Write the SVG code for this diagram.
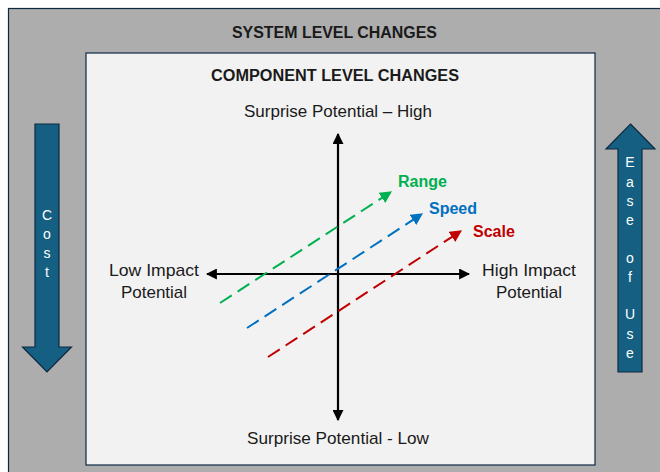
<svg xmlns="http://www.w3.org/2000/svg" width="660" height="472" viewBox="0 0 660 472">
  <defs>
    <style>
      .title { font-family: "Liberation Sans", Arial, sans-serif; font-weight: bold; font-size: 16px; fill: #1a1a1a; text-anchor: middle; }
      .lbl { font-family: "Liberation Sans", Arial, sans-serif; font-size: 17px; fill: #1a1a1a; text-anchor: middle; }
      .tag { font-family: "Liberation Sans", Arial, sans-serif; font-weight: bold; font-size: 16px; }
      .vert { font-family: "Liberation Sans", Arial, sans-serif; font-size: 14px; fill: #ffffff; text-anchor: middle; }
      .axis { stroke: #000; stroke-width: 2.2; fill: none; }
      .dash { stroke-width: 2; fill: none; stroke-dasharray: 14 7; }
      .big { fill: #156082; stroke: #0E2841; stroke-width: 1.2; }
    </style>
    <marker id="ah-black" viewBox="0 0 10 10" refX="9" refY="5" markerWidth="5" markerHeight="5" orient="auto-start-reverse" markerUnits="strokeWidth">
      <path d="M0,0 L10,5 L0,10 z" fill="#000"/>
    </marker>
    <marker id="ah-green" viewBox="0 0 10 10" refX="9" refY="5" markerWidth="6" markerHeight="6" orient="auto" markerUnits="strokeWidth">
      <path d="M0,0 L10,5 L0,10 z" fill="#00B050"/>
    </marker>
    <marker id="ah-blue" viewBox="0 0 10 10" refX="9" refY="5" markerWidth="6" markerHeight="6" orient="auto" markerUnits="strokeWidth">
      <path d="M0,0 L10,5 L0,10 z" fill="#0070C0"/>
    </marker>
    <marker id="ah-red" viewBox="0 0 10 10" refX="9" refY="5" markerWidth="6" markerHeight="6" orient="auto" markerUnits="strokeWidth">
      <path d="M0,0 L10,5 L0,10 z" fill="#C00000"/>
    </marker>
  </defs>

  <rect width="660" height="472" fill="#ffffff"/>

  <!-- outer frame: system level -->
  <g id="system-level">
    <rect x="8.5" y="8.5" width="660" height="480" fill="#ADADAD" stroke="#0E2841" stroke-width="1.2"/>
    <text class="title" x="334.5" y="38" textLength="205" lengthAdjust="spacingAndGlyphs">SYSTEM LEVEL CHANGES</text>
  </g>

  <!-- inner panel: component level -->
  <g id="component-level">
    <rect x="86" y="53" width="509" height="412" fill="#F2F2F2" stroke="#0E2841" stroke-width="1.2"/>
    <text class="title" x="335" y="81" textLength="248" lengthAdjust="spacingAndGlyphs">COMPONENT LEVEL CHANGES</text>
  </g>

  <!-- cost arrow (down) -->
  <g id="cost">
    <path class="big" d="M35,124 L59,124 L59,347 L71.5,347 L47,372 L22.5,347 L35,347 Z"/>
    <text class="vert" x="47" y="220">C</text>
    <text class="vert" x="47" y="239">o</text>
    <text class="vert" x="47" y="258">s</text>
    <text class="vert" x="47" y="277">t</text>
  </g>

  <!-- ease of use arrow (up) -->
  <g id="ease-of-use">
    <path class="big" d="M630.5,124 L655,149 L642,149 L642,372 L618,372 L618,149 L606,149 Z"/>
    <text class="vert" x="630" y="167">E</text>
    <text class="vert" x="630" y="187">a</text>
    <text class="vert" x="630" y="206">s</text>
    <text class="vert" x="630" y="225">e</text>
    <text class="vert" x="630" y="263">o</text>
    <text class="vert" x="630" y="282">f</text>
    <text class="vert" x="630" y="319">U</text>
    <text class="vert" x="630" y="339">s</text>
    <text class="vert" x="630" y="358">e</text>
  </g>

  <!-- axis labels -->
  <g id="label-high-surprise">
    <text class="lbl" x="338" y="117" textLength="188" lengthAdjust="spacingAndGlyphs">Surprise Potential – High</text>
  </g>
  <g id="label-low-surprise">
    <text class="lbl" x="338" y="444" textLength="182" lengthAdjust="spacingAndGlyphs">Surprise Potential - Low</text>
  </g>
  <g id="label-low-impact">
    <text class="lbl" x="154" y="276" textLength="90" lengthAdjust="spacingAndGlyphs">Low Impact</text>
    <text class="lbl" x="154" y="298">Potential</text>
  </g>
  <g id="label-high-impact">
    <text class="lbl" x="529" y="276" textLength="94" lengthAdjust="spacingAndGlyphs">High Impact</text>
    <text class="lbl" x="529" y="298">Potential</text>
  </g>

  <!-- trend labels -->
  <g id="range"><text class="tag" x="398" y="187" fill="#00B050">Range</text></g>
  <g id="speed"><text class="tag" x="429" y="214" fill="#0070C0">Speed</text></g>
  <g id="scale"><text class="tag" x="473" y="237" fill="#C00000">Scale</text></g>

  <!-- connectors: axes and trend arrows -->
  <g id="connectors">
    <line class="axis" x1="338" y1="134" x2="338" y2="420" marker-start="url(#ah-black)" marker-end="url(#ah-black)"/>
    <line class="axis" x1="207" y1="274" x2="469" y2="274" marker-start="url(#ah-black)" marker-end="url(#ah-black)"/>
    <line class="dash" stroke="#00B050" x1="220" y1="303" x2="391" y2="192" marker-end="url(#ah-green)"/>
    <line class="dash" stroke="#0070C0" x1="247" y1="328" x2="422" y2="214" marker-end="url(#ah-blue)"/>
    <line class="dash" stroke="#C00000" x1="268" y1="357" x2="461" y2="231" marker-end="url(#ah-red)"/>
  </g>
</svg>
